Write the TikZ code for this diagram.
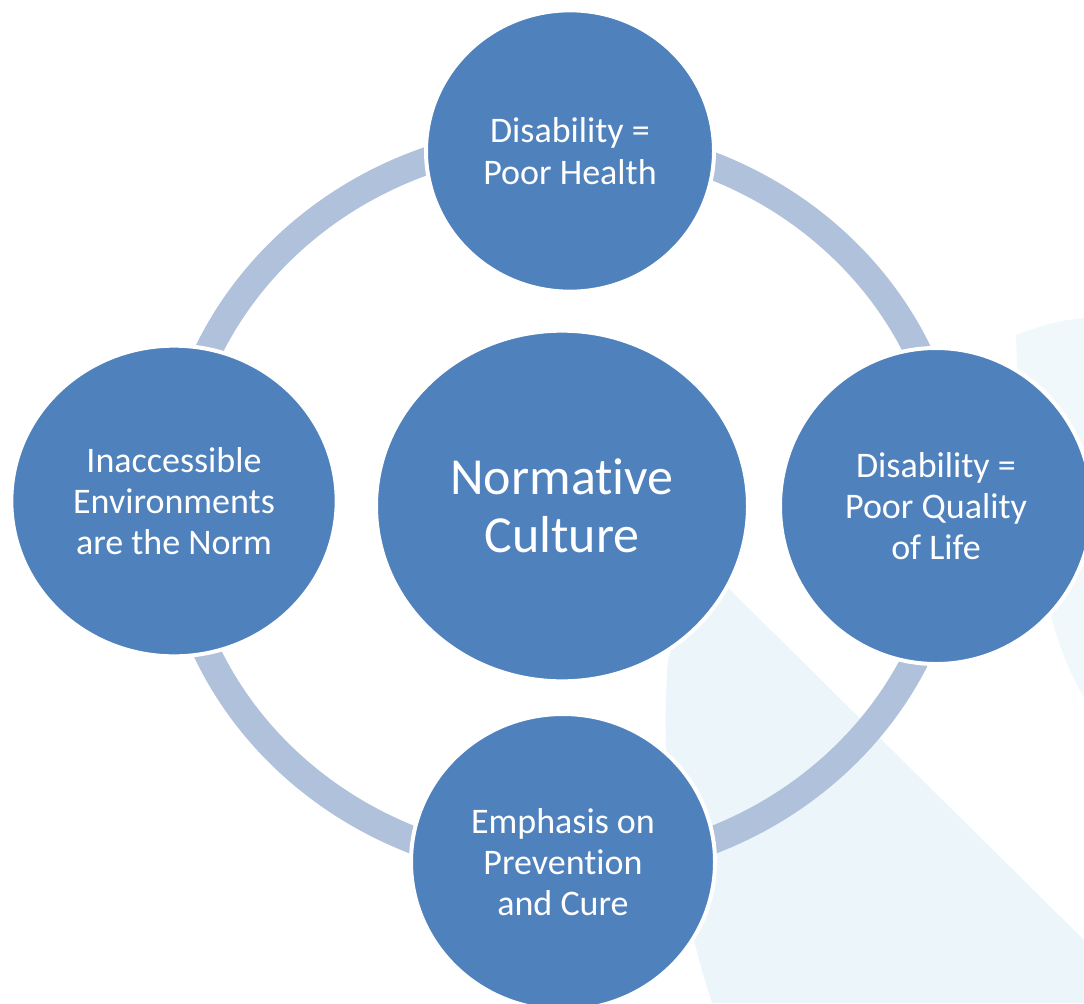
\documentclass[tikz,border=0pt]{standalone}
\usepackage{fontspec}
\setmainfont{Carlito}[Ligatures={NoCommon}]
\usetikzlibrary{shapes.geometric}
\definecolor{bubble}{HTML}{4F81BD}
\definecolor{ring}{HTML}{B0C1DC}
\definecolor{haze}{HTML}{ECF5FA}
\definecolor{hazelight}{HTML}{F1F8FC}

\begin{document}
\begin{tikzpicture}[x=0.75pt,y=-0.75pt,
  bubble/.style={ellipse,fill=bubble,draw=white,line width=3pt,text=white,
    align=center,inner sep=0pt,font=\fontsize{27}{31}\selectfont},
  hub/.style={bubble,font=\fontsize{39}{43.5}\selectfont}]
\useasboundingbox (0,0) rectangle (1084,1003);
% pale shapes behind everything
\fill[haze] (700,560) -- (1084,940) -- (1084,1003) -- (712,1003)
  .. controls (672,880) and (660,760) .. (668,660) -- cycle;
\fill[hazelight] (1016,335) .. controls (1040,326) and (1060,320) .. (1084,318)
  -- (1084,697) .. controls (1060,660) and (1022,560) .. (1016,335) -- cycle;
% the ring
\draw[ring,line width=20.5pt] (563,503) ellipse [x radius=390, y radius=365];

\node (hub) [hub,minimum width=279pt,minimum height=263pt] at (562,506) {Normative\\Culture};
\node (health) [bubble,minimum width=216pt,minimum height=211pt] at (570,151) {Disability =\\Poor Health};
\node (quality) [bubble,minimum width=234pt,minimum height=237pt] at (936,506) {Disability =\\Poor Quality\\of Life};
\node (cure) [bubble,minimum width=228pt,minimum height=222pt] at (563,862) {Emphasis on\\Prevention\\and Cure};
\node (norm) [bubble,minimum width=244pt,minimum height=233pt] at (174,501) {Inaccessible\\Environments\\are the Norm};
\end{tikzpicture}
\end{document}
